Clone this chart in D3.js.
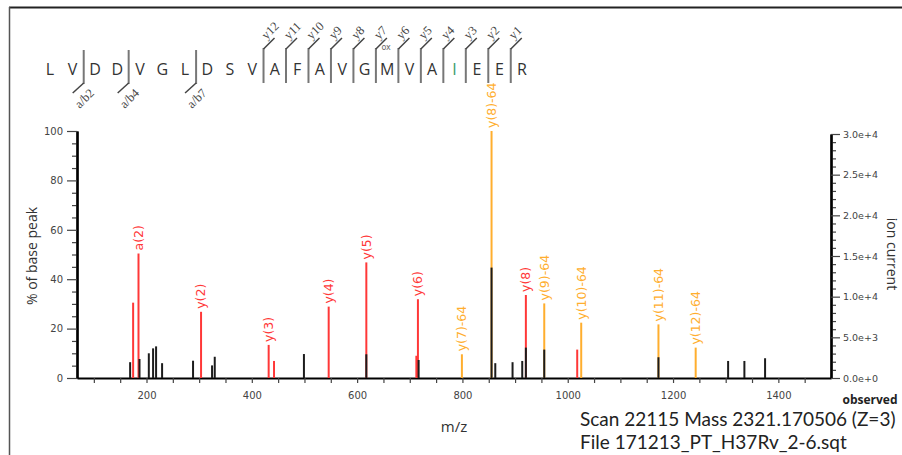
<!DOCTYPE html>
<html>
<head>
<meta charset="utf-8">
<script src="https://cdn.jsdelivr.net/npm/d3@7"></script>
<style>
  body { margin: 0; background: #fff; }
  svg text { font-family: "DejaVu Sans", sans-serif; }
</style>
</head>
<body>
<div id="chart"></div>
<script>
var width = 902,
    height = 455;

// peptide and fragment annotation
var sequence = ["L","V","D","D","V","G","L","D","S","V","A","F","A","V","G","M","V","A","I","E","E","R"];
var bIons = [{n: 2, label: "a/b2"}, {n: 4, label: "a/b4"}, {n: 7, label: "a/b7"}];
var yIons = [12, 11, 10, 9, 8, 7, 6, 5, 4, 3, 2, 1];
var mods = [{pos: 15, label: "ox"}];

// peaks: [m/z, % of base peak, label]
var blackPeaks = [
  [168.9, 6.4], [186.7, 7.7], [204.4, 10], [212.5, 12], [218.2, 12.8], [229.6, 6],
  [288.4, 7], [324.5, 5.1], [329.6, 8.6], [499, 9.7], [617.5, 9.6], [716.8, 7.3],
  [855.3, 44.7], [862.4, 6], [895.2, 6.4], [913.6, 6.9], [920.5, 12.3], [955.4, 11.5],
  [1172.3, 8.4], [1304.6, 6.9], [1335.5, 6.9], [1374.8, 8]
];
var redPeaks = [
  [174.6, 30.5, ""], [184.8, 50.4, "a(2)"], [303.6, 26.8, "y(2)"], [432, 13.4, "y(3)"],
  [442.2, 6.9, ""], [546, 28.9, "y(4)"], [617.5, 46.8, "y(5)"], [712.5, 9, ""],
  [715.5, 31.9, "y(6)"], [920.5, 33.6, "y(8)"], [1018, 11.5, ""]
];
var orangePeaks = [
  [799, 9.6, "y(7)-64"], [855.3, 100, "y(8)-64"], [955.4, 30.2, "y(9)-64"],
  [1025.6, 22.4, "y(10)-64"], [1172.3, 21.7, "y(11)-64"], [1243, 12.3, "y(12)-64"]
];

var xTicks = d3.range(100, 1500, 50);
var yTicks = d3.range(0, 101, 5);
var rightTicks = d3.range(0, 30001, 1000);

var RED = "#ff3838", ORANGE = "#ffae2e", BLACK = "#1c1c1c";

var svg = d3.select("#chart").append("svg")
    .attr("width", width)
    .attr("height", height);

// frame
svg.append("line").attr("x1", 9).attr("x2", width).attr("y1", 7.5).attr("y2", 7.5)
    .attr("stroke", "#222").attr("stroke-width", 2);
svg.append("line").attr("x1", 9.5).attr("x2", 9.5).attr("y1", 7).attr("y2", height)
    .attr("stroke", "#555").attr("stroke-width", 1.5);

var x = d3.scaleLinear().domain([68, 1500]).range([77, 831]);
var y = d3.scaleLinear().domain([0, 100]).range([378, 131]);
var yR = d3.scaleLinear().domain([0, 30000]).range([378, 134]);

// ---- axes
var gx = svg.append("g").attr("transform", "translate(0,378)")
    .call(d3.axisBottom(x).tickValues(xTicks).tickSize(5).tickSizeOuter(0).tickPadding(9)
        .tickFormat(function(d) { return d % 200 === 0 ? d : ""; }));

var gyMinor = svg.append("g").attr("transform", "translate(77,0)")
    .call(d3.axisLeft(y).tickValues(yTicks.filter(function(d) { return d % 20; }))
        .tickSize(5).tickSizeOuter(0).tickFormat(""));
var gy = svg.append("g").attr("transform", "translate(77,0)")
    .call(d3.axisLeft(y).tickValues(yTicks.filter(function(d) { return d % 20 === 0; }))
        .tickSize(10).tickSizeOuter(0).tickPadding(4));

var gyRMinor = svg.append("g").attr("transform", "translate(831,0)")
    .call(d3.axisRight(yR).tickValues(rightTicks.filter(function(d) { return d % 5000; }))
        .tickSize(5).tickSizeOuter(0).tickFormat(""));
var gyR = svg.append("g").attr("transform", "translate(831,0)")
    .call(d3.axisRight(yR).tickValues(rightTicks.filter(function(d) { return d % 5000 === 0; }))
        .tickSize(9).tickSizeOuter(0).tickPadding(3).tickFormat(d3.format(".1e")));

[gx, gyMinor, gy, gyRMinor, gyR].forEach(function(g) {
  g.select(".domain").attr("stroke", "#000").attr("stroke-width", 2.2);
  g.selectAll(".tick line").attr("stroke", "#444").attr("stroke-width", 1.2);
  g.selectAll(".tick text").attr("fill", "#444").style("font-size", "10px");
});
gyR.selectAll(".tick text").style("font-size", "9.5px");

// axis titles
svg.append("text").attr("transform", "translate(37,256) rotate(-90)")
    .attr("text-anchor", "middle").attr("fill", "#333")
    .style("font-family", "'Open Sans', sans-serif").style("font-size", "14px")
    .text("% of base peak");
svg.append("text").attr("transform", "translate(887,254) rotate(90)")
    .attr("text-anchor", "middle").attr("fill", "#333")
    .style("font-family", "'Open Sans', sans-serif").style("font-size", "14px")
    .text("ion current");
svg.append("text").attr("x", 454).attr("y", 432)
    .attr("text-anchor", "middle").attr("fill", "#333")
    .style("font-family", "'Open Sans', sans-serif").style("font-size", "15px")
    .text("m/z");
svg.append("text").attr("x", 870).attr("y", 404)
    .attr("text-anchor", "middle").attr("fill", "#222")
    .style("font-family", "'Open Sans', sans-serif").style("font-size", "12px").style("font-weight", "bold")
    .text("observed");
svg.append("text").attr("x", 580).attr("y", 426)
    .attr("fill", "#222")
    .style("font-family", "Lato, sans-serif").style("font-size", "19px")
    .text("Scan 22115 Mass 2321.170506 (Z=3)");
svg.append("text").attr("x", 580).attr("y", 449)
    .attr("fill", "#222")
    .style("font-family", "Lato, sans-serif").style("font-size", "19px")
    .text("File 171213_PT_H37Rv_2-6.sqt");

// ---- peaks
function drawPeaks(data, color) {
  svg.append("g").selectAll("line").data(data).enter().append("line")
      .attr("x1", function(d) { return x(d[0]); })
      .attr("x2", function(d) { return x(d[0]); })
      .attr("y1", y(0))
      .attr("y2", function(d) { return y(d[1]); })
      .attr("stroke", color).attr("stroke-width", 2);
}
function drawLabels(data, color) {
  svg.append("g").selectAll("text").data(data.filter(function(d) { return d[2]; })).enter().append("text")
      .attr("transform", function(d) { return "translate(" + x(d[0]) + "," + (y(d[1]) - 3) + ") rotate(-90)"; })
      .attr("dy", "0.35em")
      .attr("fill", color)
      .style("font-size", "12.5px")
      .text(function(d) { return d[2]; });
}
drawPeaks(redPeaks, RED);
drawPeaks(orangePeaks, ORANGE);
drawPeaks(blackPeaks, BLACK);
drawLabels(redPeaks, RED);
drawLabels(orangePeaks, ORANGE);

// ---- sequence
var sx = d3.scaleLinear().domain([0, sequence.length - 1]).range([50, 522]);
var seqG = svg.append("g");
seqG.selectAll("text.res").data(sequence).enter().append("text")
    .attr("class", "res")
    .attr("x", function(d, i) { return sx(i); })
    .attr("y", 75)
    .attr("text-anchor", "middle")
    .attr("fill", function(d, i) { return d === "I" ? "#3a9a6a" : "#333"; })
    .style("font-family", "'Open Sans', sans-serif").style("font-size", "16px")
    .text(function(d) { return d; });

seqG.selectAll("text.mod").data(mods).enter().append("text")
    .attr("x", function(d) { return sx(d.pos) - 1; })
    .attr("y", 50)
    .attr("text-anchor", "middle").attr("fill", "#666")
    .style("font-size", "8px")
    .text(function(d) { return d.label; });

var serif = "'Liberation Serif', serif";
bIons.forEach(function(d) {
  var px = sx(d.n - 0.5);
  seqG.append("line").attr("x1", px).attr("x2", px).attr("y1", 50).attr("y2", 84)
      .attr("stroke", "#777").attr("stroke-width", 2);
  seqG.append("line").attr("x1", px).attr("x2", px - 11).attr("y1", 83).attr("y2", 93)
      .attr("stroke", "#444").attr("stroke-width", 1.5);
  seqG.append("text").attr("transform", "translate(" + (px - 4) + "," + 109 + ") rotate(-45)")
      .attr("fill", "#444").style("font-family", serif).style("font-size", "12.5px")
      .text(d.label);
});
yIons.forEach(function(k) {
  var px = sx(sequence.length - k - 0.5);
  seqG.append("line").attr("x1", px).attr("x2", px).attr("y1", 48).attr("y2", 83)
      .attr("stroke", "#777").attr("stroke-width", 2);
  seqG.append("line").attr("x1", px).attr("x2", px + 11).attr("y1", 49).attr("y2", 38)
      .attr("stroke", "#444").attr("stroke-width", 1.5);
  seqG.append("text").attr("transform", "translate(" + (px + 3) + "," + 40 + ") rotate(-45)")
      .attr("fill", "#444").style("font-family", serif).style("font-size", "12.5px")
      .text("y" + k);
});
</script>
</body>
</html>
